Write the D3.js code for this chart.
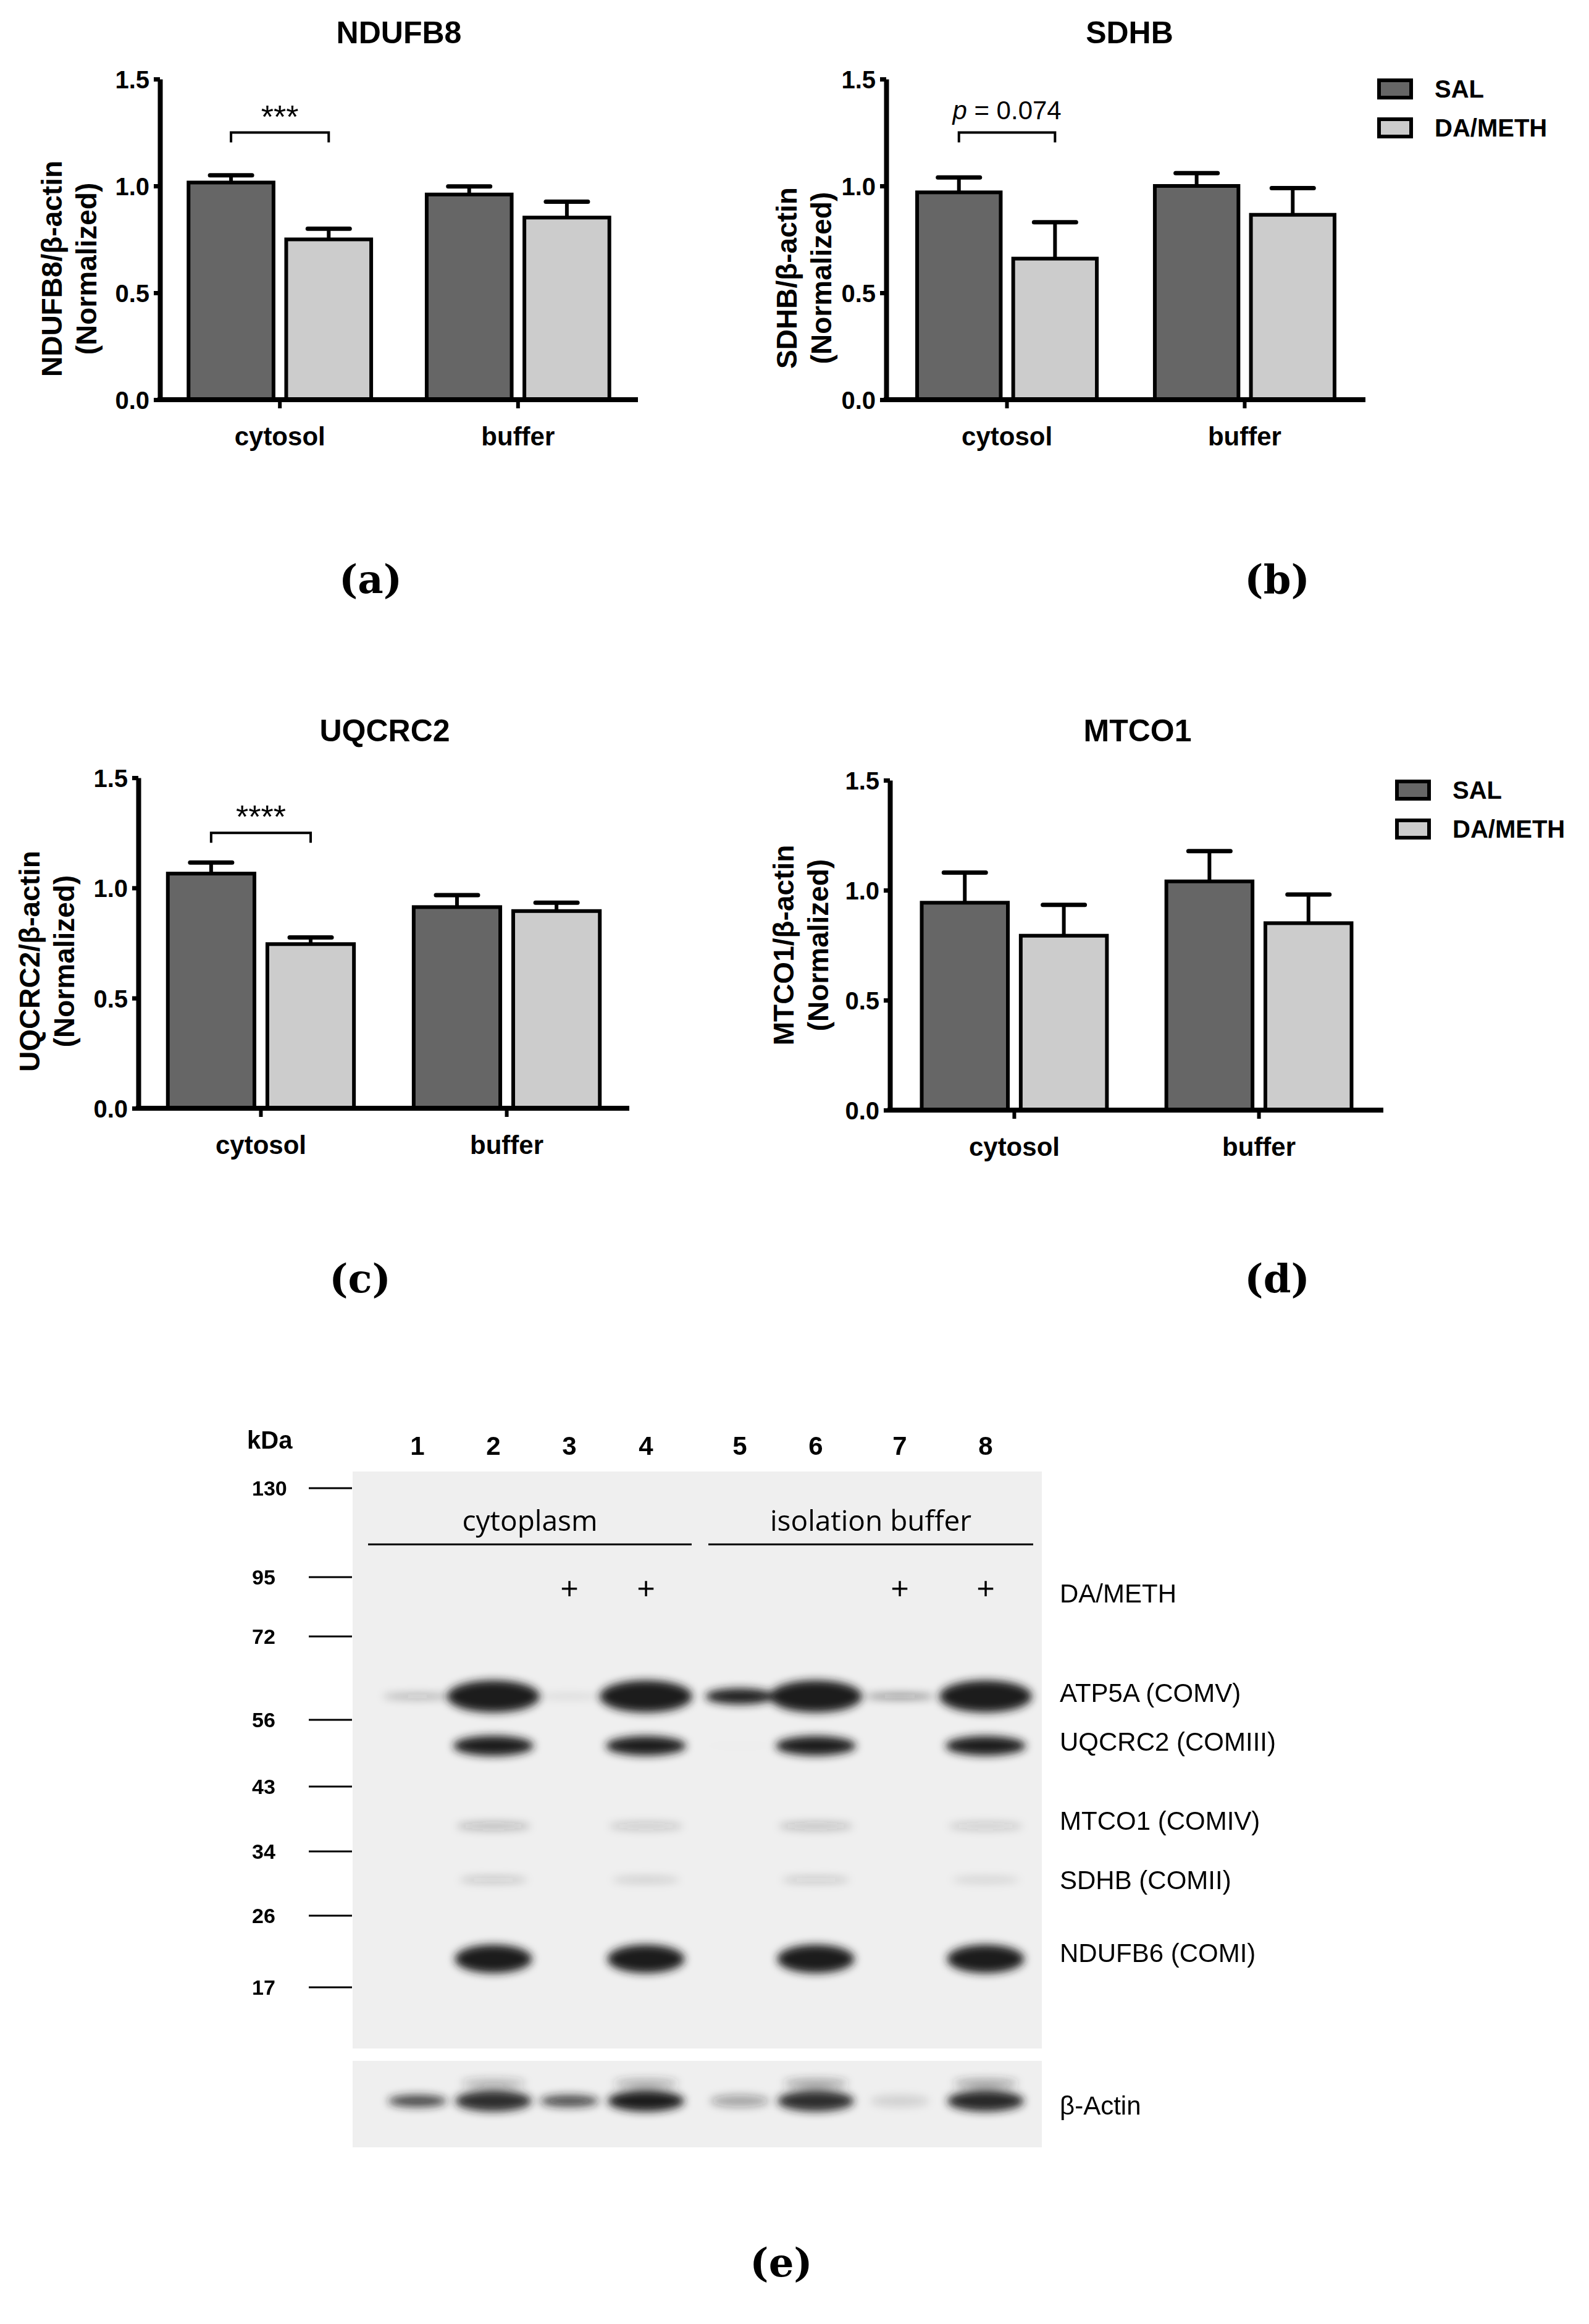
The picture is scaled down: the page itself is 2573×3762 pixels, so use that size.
<!DOCTYPE html>
<html><head><meta charset="utf-8">
<script src="https://cdn.jsdelivr.net/npm/d3@7"></script>
<style>body{margin:0;background:#fff}</style></head>
<body><svg id="c" width="2573" height="3762"></svg>
<script>
const categories = ["cytosol", "buffer"];
const seriesNames = ["SAL", "DA/METH"];
const yTicks = [0.0, 0.5, 1.0, 1.5];
const ndufb8Mean = [[1.016, 0.75], [0.96, 0.852]];
const ndufb8Err  = [[1.05, 0.80], [0.998, 0.926]];
const sdhbMean = [[0.97, 0.66], [1.00, 0.865]];
const sdhbErr  = [[1.04, 0.83], [1.06, 0.99]];
const uqcrc2Mean = [[1.065, 0.745], [0.913, 0.895]];
const uqcrc2Err  = [[1.115, 0.775], [0.967, 0.933]];
const mtco1Mean = [[0.943, 0.793], [1.04, 0.85]];
const mtco1Err  = [[1.08, 0.933], [1.178, 0.98]];

const laneNumbers = ["1","2","3","4","5","6","7","8"];
const markerKDa = [130, 95, 72, 56, 43, 34, 26, 17];
const treatment = ["", "", "+", "+", "", "", "+", "+"];
const bandNames = ["ATP5A (COMV)", "UQCRC2 (COMIII)", "MTCO1 (COMIV)", "SDHB (COMII)", "NDUFB6 (COMI)"];
const bandIntensity = [
  [0.25, 1, 0.08, 1, 0.9, 1, 0.4, 1],
  [0, 0.95, 0, 0.92, 0.04, 0.92, 0, 0.92],
  [0, 0.22, 0, 0.16, 0, 0.2, 0, 0.15],
  [0, 0.16, 0, 0.12, 0, 0.15, 0, 0.1],
  [0, 1, 0, 0.95, 0, 1, 0, 0.95]
];
const actinIntensity = [0.8, 0.92, 0.75, 1, 0.35, 0.92, 0.12, 0.95];
const actinUpper = [0, 0.3, 0, 0.35, 0, 0.4, 0, 0.4];

const svg = d3.select("#c");
const colors = ["#666666", "#cccccc"];
const bold = "'Liberation Sans', Arial, sans-serif";
const serif = "'DejaVu Serif', 'Liberation Serif', serif";

function panel(o){
  const g = svg.append("g");
  const y = d3.scaleLinear().domain([0,1.5]).range([o.y0, o.y1]);
  const x0 = d3.scaleBand().domain(categories).range([o.x0, o.xEnd]).paddingInner(o.pin).paddingOuter(o.pout);
  const x1 = d3.scaleBand().domain(seriesNames).range([0, x0.bandwidth()]).paddingInner(0.13);
  g.append("text").attr("x", o.tx).attr("y", o.ty).attr("text-anchor","middle")
    .attr("font-family",bold).attr("font-weight","bold").attr("font-size",50).text(o.title);
  categories.forEach((c,ci)=>{
    seriesNames.forEach((s,si)=>{
      const bx = x0(c)+x1(s), bw = x1.bandwidth();
      const v = o.mean[ci][si], e = o.err[ci][si];
      const cx = bx+bw/2;
      g.append("line").attr("x1",cx).attr("x2",cx).attr("y1",y(v)).attr("y2",y(e)).attr("stroke","#000").attr("stroke-width",6);
      g.append("line").attr("x1",cx-34).attr("x2",cx+34).attr("y1",y(e)).attr("y2",y(e)).attr("stroke","#000").attr("stroke-width",7).attr("stroke-linecap","round");
      g.append("rect").attr("x",bx).attr("y",y(v)).attr("width",bw).attr("height",y(0)-y(v))
        .attr("fill",colors[si]).attr("stroke","#000").attr("stroke-width",6);
    });
  });
  const ya = d3.axisLeft(y).tickValues(yTicks).tickFormat(d3.format(".1f")).tickSize(10).tickSizeOuter(0);
  const yg = g.append("g").attr("transform",`translate(${o.x0},0)`).call(ya);
  yg.select(".domain").attr("stroke-width",8);
  yg.selectAll(".tick line").attr("stroke-width",7);
  yg.selectAll(".tick text").attr("font-family",bold).attr("font-weight","bold").attr("font-size",40).attr("dx",-4).attr("dy","0.36em");
  const xa = d3.axisBottom(x0).tickSize(14).tickSizeOuter(0).tickPadding(30);
  const xg = g.append("g").attr("transform",`translate(0,${o.y0})`).call(xa);
  xg.select(".domain").attr("stroke-width",8).attr("d",`M${o.x0-4},0H${o.xEnd}`);
  xg.selectAll(".tick line").attr("stroke-width",6);
  xg.selectAll(".tick text").attr("font-family",bold).attr("font-weight","bold").attr("font-size",42);
  const yt = g.append("text").attr("transform",`translate(${o.ylx},${o.yly}) rotate(-90)`).attr("text-anchor","middle")
    .attr("font-family",bold).attr("font-weight","bold").attr("font-size",46);
  yt.append("tspan").attr("x",0).attr("dy",0).text(o.ylabel);
  yt.append("tspan").attr("x",0).attr("dy",56).text("(Normalized)");
  if(o.sig){
    const a = x0(categories[0])+x1(seriesNames[0])+x1.bandwidth()/2;
    const b = x0(categories[0])+x1(seriesNames[1])+x1.bandwidth()/2;
    const by = y(o.sig.level);
    g.append("path").attr("d",`M${a},${by+16}V${by}H${b}V${by+16}`).attr("fill","none").attr("stroke","#000").attr("stroke-width",4);
    const t = g.append("text").attr("x",(a+b)/2).attr("y",by-22).attr("text-anchor","middle").attr("font-family",bold).attr("font-size",o.sig.p?42:52);
    if(o.sig.p){ t.append("tspan").attr("font-style","italic").text("p"); t.append("tspan").text(" = 0.074"); }
    else t.text(o.sig.text).attr("dy",14);
  }
  if(o.legend){
    seriesNames.forEach((s,i)=>{
      g.append("rect").attr("x",o.legend[0]).attr("y",o.legend[1]+i*63).attr("width",52).attr("height",28)
        .attr("fill",colors[i]).attr("stroke","#000").attr("stroke-width",6);
      g.append("text").attr("x",o.legend[0]+90).attr("y",o.legend[1]+i*63+28).attr("font-family",bold)
        .attr("font-weight","bold").attr("font-size",40).text(s);
    });
  }
  svg.append("text").attr("x",o.lx).attr("y",o.ly).attr("text-anchor","middle")
    .attr("font-family",serif).attr("font-weight","bold").attr("font-size",64).text(o.label);
}

panel({title:"NDUFB8", tx:646, ty:70, x0:259, xEnd:1033, y0:647, y1:128, pin:0.233, pout:0.12,
  mean:ndufb8Mean, err:ndufb8Err, ylabel:"NDUFB8/β-actin", ylx:100, yly:435,
  sig:{level:1.25, text:"***"}, label:"(a)", lx:600, ly:960});
panel({title:"SDHB", tx:1829, ty:70, x0:1435, xEnd:2211, y0:647, y1:128, pin:0.244, pout:0.13,
  mean:sdhbMean, err:sdhbErr, ylabel:"SDHB/β-actin", ylx:1290, yly:450,
  sig:{level:1.25, p:true}, legend:[2233,130], label:"(b)", lx:2068, ly:960});
panel({title:"UQCRC2", tx:623, ty:1200, x0:224, xEnd:1019, y0:1794, y1:1259, pin:0.243, pout:0.12,
  mean:uqcrc2Mean, err:uqcrc2Err, ylabel:"UQCRC2/β-actin", ylx:64, yly:1556,
  sig:{level:1.25, text:"****"}, label:"(c)", lx:583, ly:2092});
panel({title:"MTCO1", tx:1842, ty:1200, x0:1441, xEnd:2240, y0:1797, y1:1263, pin:0.243, pout:0.13,
  mean:mtco1Mean, err:mtco1Err, ylabel:"MTCO1/β-actin", ylx:1285, yly:1530,
  legend:[2262,1265], label:"(d)", lx:2068, ly:2092});

// ---- Western blot (e) ----
const defs = svg.append("defs");
defs.append("filter").attr("id","blur").attr("x","-50%").attr("y","-100%").attr("width","200%").attr("height","300%")
  .append("feGaussianBlur").attr("stdDeviation",7);
const laneXs = [676,799,922,1046,1198,1321,1457,1596];
const markerY = d3.scaleLinear().domain(markerKDa).range([2409,2553,2649,2784,2892,2997,3101,3217]);
const blot = svg.append("g");
blot.append("rect").attr("x",571).attr("y",2382).attr("width",1116).attr("height",934).attr("fill","#efefef");
blot.append("rect").attr("x",571).attr("y",3336).attr("width",1116).attr("height",140).attr("fill","#efefef");
const bandY = [2746, 2826, 2956, 3043, 3171];
const bandH = [52, 34, 14, 12, 46];
const bandW = [150, 130, 120, 110, 125];
const bg = blot.append("g").attr("filter","url(#blur)");
bandIntensity.forEach((row,ri)=>{
  row.forEach((v,li)=>{
    if(v<=0) return;
    let h = bandH[ri]*v, w = bandW[ri];
    if(ri===0 && v<0.95){ h = v>0.5 ? 26 : 10; w = 112; }
    if(ri>=2){ h = bandH[ri]; }
    bg.append("ellipse").attr("cx",laneXs[li]).attr("cy",bandY[ri]).attr("rx",w/2).attr("ry",h/2)
      .attr("fill","#1e1e1e").attr("opacity",Math.min(1,v*1.1));
  });
});
actinIntensity.forEach((v,li)=>{
  bg.append("ellipse").attr("cx",laneXs[li]).attr("cy",3401).attr("rx",li%2?62:48).attr("ry",v>0.85?17:10)
    .attr("fill","#1e1e1e").attr("opacity",v);
});
actinUpper.forEach((v,li)=>{
  if(v<=0) return;
  bg.append("ellipse").attr("cx",laneXs[li]).attr("cy",3372).attr("rx",52).attr("ry",7).attr("fill","#333").attr("opacity",v);
});
markerKDa.forEach(k=>{
  const yy = markerY(k);
  blot.append("line").attr("x1",500).attr("x2",570).attr("y1",yy).attr("y2",yy).attr("stroke","#000").attr("stroke-width",3);
  blot.append("text").attr("x",408).attr("y",yy+12).attr("font-family",bold).attr("font-weight","bold").attr("font-size",34).text(k);
});
blot.append("text").attr("x",400).attr("y",2345).attr("font-family",bold).attr("font-weight","bold").attr("font-size",40).text("kDa");
laneNumbers.forEach((n,i)=>{
  blot.append("text").attr("x",laneXs[i]).attr("y",2355).attr("text-anchor","middle").attr("font-family",bold)
    .attr("font-weight","bold").attr("font-size",42).text(n);
  if(treatment[i]) blot.append("text").attr("x",laneXs[i]).attr("y",2590).attr("text-anchor","middle")
    .attr("font-family","'Open Sans', sans-serif").attr("font-size",52).text(treatment[i]);
});
[["cytoplasm",596,1120],["isolation buffer",1147,1673]].forEach(([t,a,b])=>{
  blot.append("line").attr("x1",a).attr("x2",b).attr("y1",2500).attr("y2",2500).attr("stroke","#000").attr("stroke-width",3);
  blot.append("text").attr("x",(a+b)/2).attr("y",2478).attr("text-anchor","middle").attr("font-family","'Open Sans', sans-serif")
    .attr("font-size",46).text(t);
});
const rightLab = (t,yy)=>blot.append("text").attr("x",1716).attr("y",yy+15).attr("font-family","'Liberation Sans', Arial, sans-serif")
  .attr("font-size",42).text(t);
rightLab("DA/METH",2579);
bandNames.forEach((n,i)=>rightLab(n,[2740,2819,2947,3043,3161][i]));
rightLab("β-Actin",3408);
svg.append("text").attr("x",1265).attr("y",3685).attr("text-anchor","middle")
  .attr("font-family",serif).attr("font-weight","bold").attr("font-size",64).text("(e)");
</script></body></html>
